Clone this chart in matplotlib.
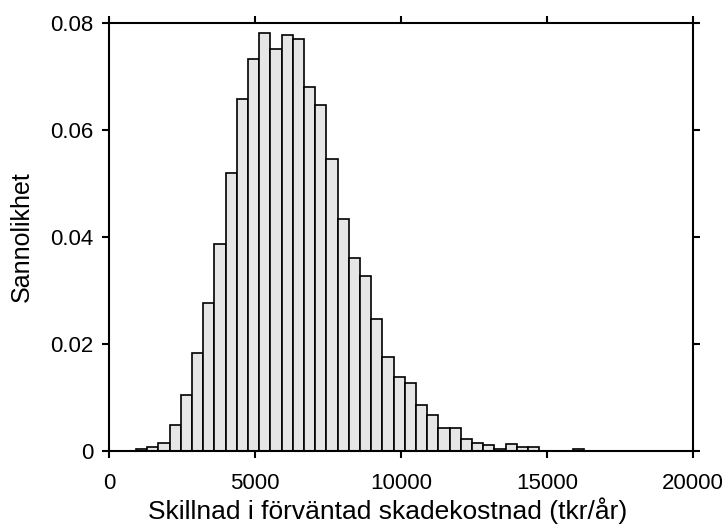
import matplotlib
matplotlib.use('Agg')
import matplotlib.pyplot as plt
import numpy as np

# ---------- Data ---------------------
bin_lo = 925
bin_hi = 16265
probs = [0.0004, 0.00075, 0.0015, 0.0049, 0.0105, 0.0183, 0.0277, 0.0386, 0.0520, 0.0658,
         0.0733, 0.0782, 0.0752, 0.0778, 0.0771, 0.0681, 0.0647, 0.0546, 0.0434, 0.0360,
         0.0326, 0.0247, 0.0176, 0.0138, 0.0127, 0.0086, 0.0067, 0.0042, 0.0042, 0.0022,
         0.0015, 0.0011, 0.0004, 0.0012, 0.0007, 0.0007, 0.0, 0.0, 0.0, 0.0004]
x_ticks = [0, 5000, 10000, 15000, 20000]
y_ticks = [0, 0.02, 0.04, 0.06, 0.08]
y_ticklabels = ['0', '0.02', '0.04', '0.06', '0.08']

# ---------- Plot ---------------------
plt.rcParams['font.family'] = ['Liberation Sans', 'DejaVu Sans']

fig = plt.figure(figsize=(7.28, 5.28), dpi=100)
ax = fig.add_axes([0.1497, 0.1464, 0.8023, 0.81])

edges = np.linspace(bin_lo, bin_hi, len(probs) + 1)
ax.bar(edges[:-1], probs, width=np.diff(edges), align='edge',
       color='#e6e6e6', edgecolor='black', linewidth=1.2)

ax.set_xlim(0, 20000)
ax.set_ylim(0, 0.08)
ax.set_xticks(x_ticks)
ax.set_xticklabels([str(t) for t in x_ticks])
ax.set_yticks(y_ticks)
ax.set_yticklabels(y_ticklabels)

for s in ax.spines.values():
    s.set_linewidth(1.5)
ax.tick_params(direction='out', length=5, width=1.5, labelsize=16,
               top=True, right=True)
ax.tick_params(axis='y', pad=6)
ax.tick_params(axis='x', pad=11)

ax.set_xlabel('Skillnad i förväntad skadekostnad (tkr/år)', fontsize=19)
ax.set_ylabel('Sannolikhet', fontsize=18)
ax.xaxis.set_label_coords(0.477, -0.108)
ax.yaxis.set_label_coords(-0.149, 0.5)
ax.yaxis.label.set_va('center')

fig.savefig('out.png', dpi=100)
